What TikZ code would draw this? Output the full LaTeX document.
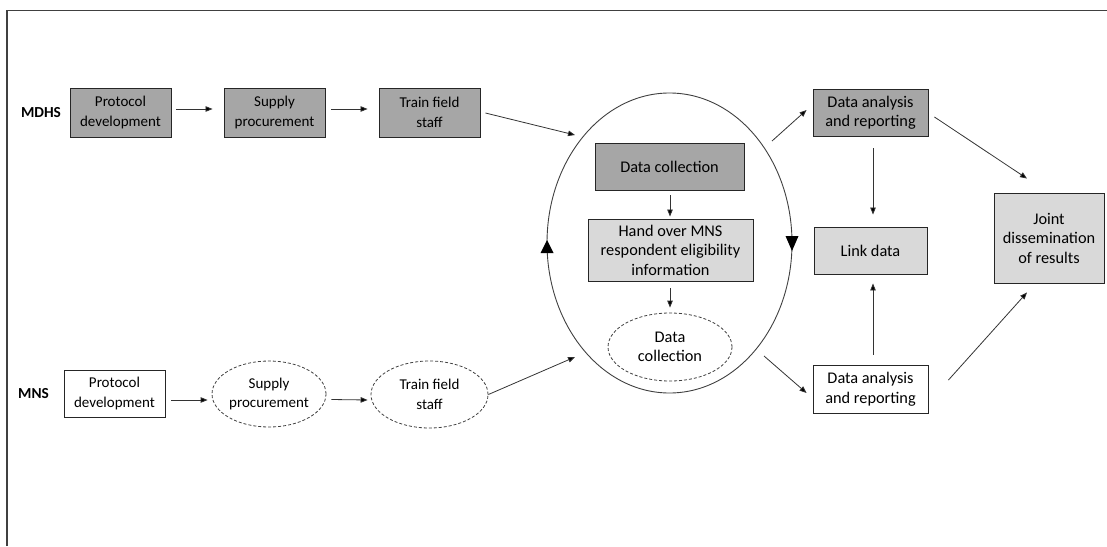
\documentclass[tikz,border=0pt]{standalone}
\usepackage{fontspec}
\setmainfont{Carlito}
\usetikzlibrary{shapes.geometric,arrows.meta}
\definecolor{darkfill}{HTML}{A6A6A6}
\definecolor{lightfill}{HTML}{D9D9D9}
\definecolor{linegray}{HTML}{333333}
\begin{document}
\begin{tikzpicture}[x=1pt,y=-1pt,
  smallfont/.style={font=\fontsize{15}{19.5}\selectfont},
  bigfont/.style={font=\fontsize{16.3}{19.5}\selectfont},
  box/.style={draw=black!85, line width=0.9pt, rectangle, inner sep=0pt, align=center, text=black},
  darkbox/.style={box, fill=darkfill},
  lightbox/.style={box, fill=lightfill},
  whitebox/.style={box, fill=white},
  dashell/.style={draw=black!75, line width=0.8pt, dash pattern=on 3pt off 2pt, ellipse, inner sep=0pt, align=center, text=black},
  arr/.style={draw=linegray, line width=0.8pt, -{Triangle[length=7pt,width=5.5pt,fill=black]}},
  lbl/.style={font=\fontsize{15.3}{18}\selectfont\bfseries, inner sep=0pt}
]
\useasboundingbox (0,0) rectangle (1107,546);
% frame
\draw[line width=1.5pt, black!75] (7,546) -- (7,10.5) -- (1107,10.5);

% labels
\node[lbl] (mdhs) at (41,113) {MDHS};
\node[lbl] (mns) at (33.5,394) {MNS};

% MDHS row
\node[darkbox, smallfont, minimum width=101, minimum height=49] (p1) at (120.5,112.5) {Protocol\\development};
\node[darkbox, smallfont, minimum width=101, minimum height=49] (s1) at (274.5,112.5) {Supply\\procurement};
\node[darkbox, smallfont, minimum width=101, minimum height=49] (t1) at (429.5,112.5) {Train field\\staff};

% MNS row
\node[whitebox, smallfont, minimum width=101, minimum height=47] (p2) at (114.5,393.5) {Protocol\\development};
\node[dashell, smallfont, minimum width=114, minimum height=66] (s2) at (269,394) {Supply\\procurement};
\node[dashell, smallfont, minimum width=117, minimum height=67] (t2) at (429.5,394.5) {Train field\\staff};

% loop ellipse
\node[draw=black!75, line width=0.9pt, ellipse, minimum width=245, minimum height=300, inner sep=0pt] (loop) at (669.5,243) {};
\fill[black] (540.5,253) -- (553.5,253) -- (547,240) -- cycle;
\fill[black] (785.5,236) -- (798.5,236) -- (792,251) -- cycle;

\node[darkbox, bigfont, minimum width=149, minimum height=47] (dc) at (669.5,166.5) {Data collection};
\node[lightbox, bigfont, minimum width=165, minimum height=62] (ho) at (670.5,250) {Hand over MNS\\respondent eligibility\\information};
\node[dashell, bigfont, minimum width=124, minimum height=68] (dc2) at (670,347) {Data\\collection};

% right side
\node[darkbox, bigfont, minimum width=115, minimum height=47] (da1) at (870.5,112.5) {Data analysis\\and reporting};
\node[lightbox, bigfont, minimum width=113, minimum height=47] (link) at (870.5,250.5) {Link data};
\node[whitebox, bigfont, minimum width=115, minimum height=48] (da2) at (870.5,389) {Data analysis\\and reporting};
\node[lightbox, bigfont, minimum width=110, minimum height=90] (joint) at (1049,238) {Joint\\dissemination\\of results};

% arrows
\draw[arr] ([shift={(5pt,3.5pt)}]p1.east) -- ([shift={(-11pt,3.5pt)}]s1.west);
\draw[arr] ([shift={(6pt,3.5pt)}]s1.east) -- ([shift={(-11pt,3.5pt)}]t1.west);
\draw[arr] ([shift={(6pt,-6.5pt)}]p2.east) -- ([shift={(-4pt,-6pt)}]s2.west);
\draw[arr] ([shift={(5pt,-5.5pt)}]s2.east) -- ([shift={(-3pt,-5.5pt)}]t2.west);

\draw[arr] ([shift={(5pt,-0.5pt)}]t1.east) -- ([shift={(-94.5pt,108pt)}]loop.center);
\draw[arr] (t2.east) -- ([shift={(-94.5pt,-114pt)}]loop.center);
\draw[arr] ([shift={(102.5pt,102pt)}]loop.center) -- ([shift={(-6pt,2.5pt)}]da1.west);
\draw[arr] ([shift={(94.5pt,-113pt)}]loop.center) -- ([shift={(-6pt,-4pt)}]da2.west);

\draw[arr] ([shift={(0.5pt,-5pt)}]dc.south) -- ([shift={(-0.5pt,2pt)}]ho.north);
\draw[arr] ([shift={(-0.5pt,-7pt)}]ho.south) -- ([shift={(0pt,5pt)}]dc2.north);

\draw[arr] ([shift={(2.5pt,-12pt)}]da1.south) -- ([shift={(2.5pt,12pt)}]link.north);
\draw[arr] ([shift={(2.5pt,10pt)}]da2.north) -- ([shift={(2.5pt,-9pt)}]link.south);
\draw[arr] ([shift={(6pt,-4.5pt)}]da1.east) -- ([shift={(-22pt,14pt)}]joint.north);
\draw[arr] ([shift={(20pt,9pt)}]da2.east) -- ([shift={(-22pt,-9pt)}]joint.south);
\end{tikzpicture}
\end{document}
